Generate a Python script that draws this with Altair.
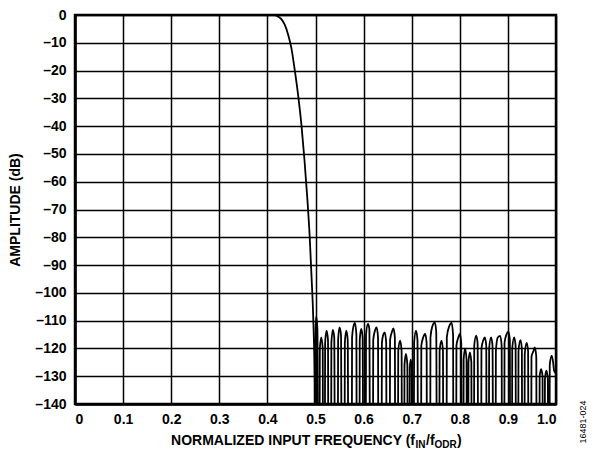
import altair as alt
import pandas as pd

# Pass band and transition band
pass_freq = [0.415, 0.422, 0.429, 0.436, 0.443, 0.450, 0.457, 0.464, 0.471,
             0.477, 0.483, 0.488, 0.492, 0.4955, 0.498]
pass_amp = [0.0, -0.5, -1.5, -3.5, -7.0, -12.0, -20.0, -29.0, -40.0,
            -52.0, -66.0, -80.0, -95.0, -110.0, -130.0]

# Stop band ripple (nulls drop below the -140 dB axis floor)
stop_freq = [
    0.4995, 0.5005, 0.5015, 0.504, 0.506,
    0.508, 0.509, 0.512, 0.515, 0.516,
    0.519, 0.520, 0.523, 0.526, 0.527,
    0.532, 0.533, 0.536, 0.539, 0.541,
    0.546, 0.547, 0.550, 0.553, 0.555,
    0.560, 0.561, 0.564, 0.567, 0.569,
    0.575, 0.576, 0.579, 0.582, 0.585, 0.586,
    0.591, 0.592, 0.595, 0.598, 0.600,
    0.604, 0.605, 0.609, 0.612, 0.614,
    0.619, 0.620, 0.623, 0.627, 0.630, 0.631,
    0.637, 0.638, 0.641, 0.644, 0.647, 0.648,
    0.654, 0.655, 0.659, 0.662, 0.665, 0.666,
    0.671, 0.672, 0.676, 0.679, 0.680,
    0.684, 0.685, 0.688, 0.691, 0.692,
    0.695, 0.696, 0.698, 0.700, 0.701,
    0.704, 0.705, 0.709, 0.712, 0.714,
    0.719, 0.720, 0.724, 0.728, 0.731, 0.732,
    0.738, 0.739, 0.743, 0.748, 0.751, 0.753,
    0.757, 0.758, 0.762, 0.765, 0.766,
    0.772, 0.773, 0.778, 0.783, 0.786, 0.787,
    0.792, 0.793, 0.797, 0.800, 0.803, 0.804,
    0.807, 0.808, 0.811, 0.814, 0.815,
    0.817, 0.818, 0.821, 0.824, 0.825,
    0.829, 0.830, 0.834, 0.837, 0.839,
    0.844, 0.845, 0.849, 0.852, 0.855, 0.856,
    0.860, 0.861, 0.865, 0.868, 0.870,
    0.874, 0.875, 0.879, 0.884, 0.887, 0.888,
    0.892, 0.893, 0.897, 0.901, 0.904, 0.905,
    0.908, 0.909, 0.913, 0.916, 0.917,
    0.921, 0.922, 0.926, 0.929, 0.930,
    0.934, 0.935, 0.939, 0.942, 0.943,
    0.948, 0.949, 0.953, 0.956, 0.959, 0.960,
    0.965, 0.966, 0.969, 0.972, 0.973,
    0.976, 0.977, 0.980, 0.983, 0.984,
    0.986, 0.987, 0.991, 0.994, 0.996, 1.000,
]
stop_amp = [
    -200, -112.0, -108.5, -113.0, -200,
    -200, -120.0, -116.0, -120.0, -200,
    -200, -118.0, -113.6, -117.0, -200,
    -200, -118.0, -113.3, -116.0, -200,
    -200, -117.0, -112.4, -115.0, -200,
    -200, -118.0, -113.6, -117.0, -200,
    -200, -116.0, -112.0, -110.8, -115.0, -200,
    -200, -117.0, -113.0, -116.0, -200,
    -200, -115.0, -111.2, -113.0, -200,
    -200, -117.0, -114.0, -112.4, -116.0, -200,
    -200, -118.0, -115.0, -114.2, -118.0, -200,
    -200, -117.0, -114.0, -112.8, -116.0, -200,
    -200, -121.0, -117.2, -121.0, -200,
    -200, -126.0, -122.0, -126.0, -200,
    -200, -127.0, -124.0, -127.0, -200,
    -200, -118.0, -113.6, -117.0, -200,
    -200, -119.0, -116.0, -114.8, -118.0, -200,
    -200, -116.0, -112.0, -110.6, -114.0, -200,
    -200, -121.0, -117.2, -121.0, -200,
    -200, -116.0, -112.0, -110.8, -115.0, -200,
    -200, -119.0, -116.0, -114.8, -118.0, -200,
    -200, -124.0, -120.0, -124.0, -200,
    -200, -125.0, -121.4, -125.0, -200,
    -200, -119.0, -115.4, -118.0, -200,
    -200, -120.0, -117.0, -116.0, -119.0, -200,
    -200, -120.0, -116.0, -119.0, -200,
    -200, -121.0, -116.0, -115.5, -119.0, -200,
    -200, -118.0, -115.0, -114.0, -117.0, -200,
    -200, -120.0, -116.0, -119.0, -200,
    -200, -121.0, -117.0, -120.0, -200,
    -200, -122.0, -118.0, -121.0, -200,
    -200, -123.0, -121.0, -119.6, -123.0, -200,
    -200, -130.0, -127.5, -130.0, -200,
    -200, -131.0, -128.0, -131.0, -200,
    -200, -126.0, -122.6, -125.0, -128.0, -129.0,
]

x_ticks = [0, 0.1, 0.2, 0.3, 0.4, 0.5, 0.6, 0.7, 0.8, 0.9, 1.0]
y_ticks = [0, -10, -20, -30, -40, -50, -60, -70, -80, -90, -100, -110, -120, -130, -140]

freq = pass_freq + stop_freq
amp = pass_amp + stop_amp
df = pd.DataFrame({"f": freq, "a": amp, "i": list(range(len(freq)))})

FONT = "Liberation Sans"
W, H = 481, 389

line = alt.Chart(df).mark_line(
    color="black", strokeWidth=1.8, interpolate="monotone", clip=True
).encode(
    x=alt.X("f:Q", scale=alt.Scale(domain=[0, 1], nice=False),
            axis=alt.Axis(values=x_ticks, title=None,
                          labelExpr="datum.value == 0 ? '0' : format(datum.value, '.1f')")),
    y=alt.Y("a:Q", scale=alt.Scale(domain=[-140, 0], nice=False),
            axis=alt.Axis(values=y_ticks, title="AMPLITUDE (dB)",
                          labelExpr="datum.value == 0 ? '0' : '\u2013' + abs(datum.value)")),
    order="i:Q",
)


def piece(text, x, size, dy, align="left"):
    return alt.Chart(pd.DataFrame({"t": [text]})).mark_text(
        font=FONT, fontWeight="bold", fontSize=size, align=align,
        baseline="alphabetic", color="black", dy=dy,
    ).encode(text="t:N", x=alt.value(x), y=alt.value(430))


x0 = 340
t1 = piece("NORMALIZED INPUT FREQUENCY (f", x0, 14, 0, align="right")
t2 = piece("IN", x0 + 0.5, 10, 3)
t3 = piece("/f", x0 + 11, 14, 0)
t4 = piece("ODR", x0 + 19.5, 10, 3)
t5 = piece(")", x0 + 42, 14, 0)

code = alt.Chart(pd.DataFrame({"t": ["16481-024"]})).mark_text(
    font=FONT, fontSize=9, angle=270, align="center", baseline="middle", color="black"
).encode(text="t:N", x=alt.value(W + 27), y=alt.value(H + 18))

chart = alt.layer(line, t1, t2, t3, t4, t5, code).properties(
    width=W, height=H,
    autosize=alt.AutoSizeParams(type="none"),
    padding={"left": 67, "top": 7, "right": 31, "bottom": 50},
).configure_view(
    stroke="black", strokeWidth=2.5
).configure_axis(
    grid=True, gridColor="black", gridWidth=1.5, gridOpacity=1,
    domainColor="black", domainWidth=2.5,
    ticks=False,
    labelFont=FONT, labelFontWeight="bold", labelFontSize=14, labelColor="black",
    titleFont=FONT, titleFontWeight="bold", titleFontSize=14, titleColor="black",
).configure_axisX(
    labelPadding=8,
).configure_axisY(
    labelPadding=9, titlePadding=12,
)

chart.save("out.html", embed_options={"renderer": "svg", "actions": False})
